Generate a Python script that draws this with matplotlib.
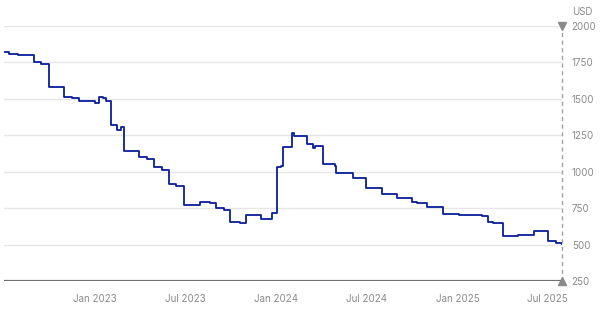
import pandas as pd
import matplotlib.pyplot as plt
import matplotlib.dates as mdates

# Price steps (USD), each value holds until the next date
dates = [
    "2022-07-01", "2022-07-12", "2022-07-29", "2022-08-31", "2022-09-14",
    "2022-09-30", "2022-10-30", "2022-11-15", "2022-11-30", "2023-01-01",
    "2023-01-09", "2023-01-16", "2023-01-23", "2023-02-02", "2023-02-14",
    "2023-02-23", "2023-03-01", "2023-03-31", "2023-04-16", "2023-04-30",
    "2023-05-16", "2023-05-29", "2023-06-14", "2023-06-30", "2023-08-01",
    "2023-08-20", "2023-09-01", "2023-09-17", "2023-10-01", "2023-10-20",
    "2023-11-02", "2023-12-01", "2023-12-23", "2024-01-02", "2024-01-10",
    "2024-01-16", "2024-02-03", "2024-02-07", "2024-03-03", "2024-03-15",
    "2024-03-19", "2024-04-04", "2024-04-28", "2024-04-30", "2024-06-04",
    "2024-06-30", "2024-07-28", "2024-08-01", "2024-09-02", "2024-10-02",
    "2024-10-12", "2024-11-01", "2024-12-03", "2025-01-04", "2025-02-20",
    "2025-03-04", "2025-03-14", "2025-04-03", "2025-05-03", "2025-06-05",
    "2025-06-20", "2025-07-03", "2025-07-19", "2025-07-31",
]
prices = [
    1822, 1810, 1800, 1755, 1738,
    1584, 1516, 1505, 1486, 1474,
    1510, 1505, 1488, 1322, 1283,
    1306, 1144, 1098, 1087, 1029,
    1014, 918, 904, 769, 793,
    788, 752, 735, 653, 648,
    701, 676, 717, 1032, 1041,
    1169, 1265, 1247, 1188, 1160,
    1174, 1053, 1037, 990, 955,
    890, 885, 849, 820, 795,
    786, 757, 708, 700, 697,
    653, 648, 557, 568, 596,
    593, 523, 512, 505,
]

x_ticks = ["2023-01-01", "2023-07-01", "2024-01-01", "2024-07-01", "2025-01-01", "2025-07-01"]
x_labels = ["Jan 2023", "Jul 2023", "Jan 2024", "Jul 2024", "Jan 2025", "Jul 2025"]
y_ticks = [250, 500, 750, 1000, 1250, 1500, 1750, 2000]


def main() -> None:
    plt.rcParams["font.family"] = ["Inter", "DejaVu Sans"]
    d = pd.to_datetime(dates)

    fig = plt.figure(figsize=(6, 3.1), dpi=100)
    ax = fig.add_axes([4 / 600, 29 / 310, 558 / 600, 255 / 310])

    for v in y_ticks[1:]:
        ax.axhline(v, color="#e6e6e6", lw=1, zorder=0)
    ax.axhline(250, color="#707070", lw=1.6, zorder=1)

    ax.step(d, prices, where="post", color="#0a1e9a", lw=1.3, zorder=3)

    end = d[-1]
    ax.plot([end, end], [250, 2000], color="#a0a0a0", lw=1, ls=(0, (3, 2.5)), zorder=2, clip_on=False)
    ax.plot(end, 2000, marker="v", color="#8a8a8a", ms=5.5, clip_on=False, zorder=4)
    ax.plot(end, 250, marker="^", color="#8a8a8a", ms=5.5, clip_on=False, zorder=4)

    ax.set_xlim(d[0], end)
    ax.set_ylim(250, 2000)
    for s in ax.spines.values():
        s.set_visible(False)

    ax.yaxis.tick_right()
    ax.set_yticks(y_ticks)
    ax.set_yticklabels([str(v) for v in y_ticks])
    ax.set_xticks(pd.to_datetime(x_ticks))
    ax.set_xticklabels(x_labels)
    ax.tick_params(axis="y", length=0, pad=7, labelsize=7, labelcolor="#8a8a8a")
    ax.tick_params(axis="x", length=0, pad=9, labelsize=7, labelcolor="#8a8a8a")

    fig.text(572 / 600, 1 - 12 / 310, "USD", fontsize=7, color="#8a8a8a", va="center", ha="left")

    fig.savefig("out.png", dpi=100)


if __name__ == "__main__":
    main()
